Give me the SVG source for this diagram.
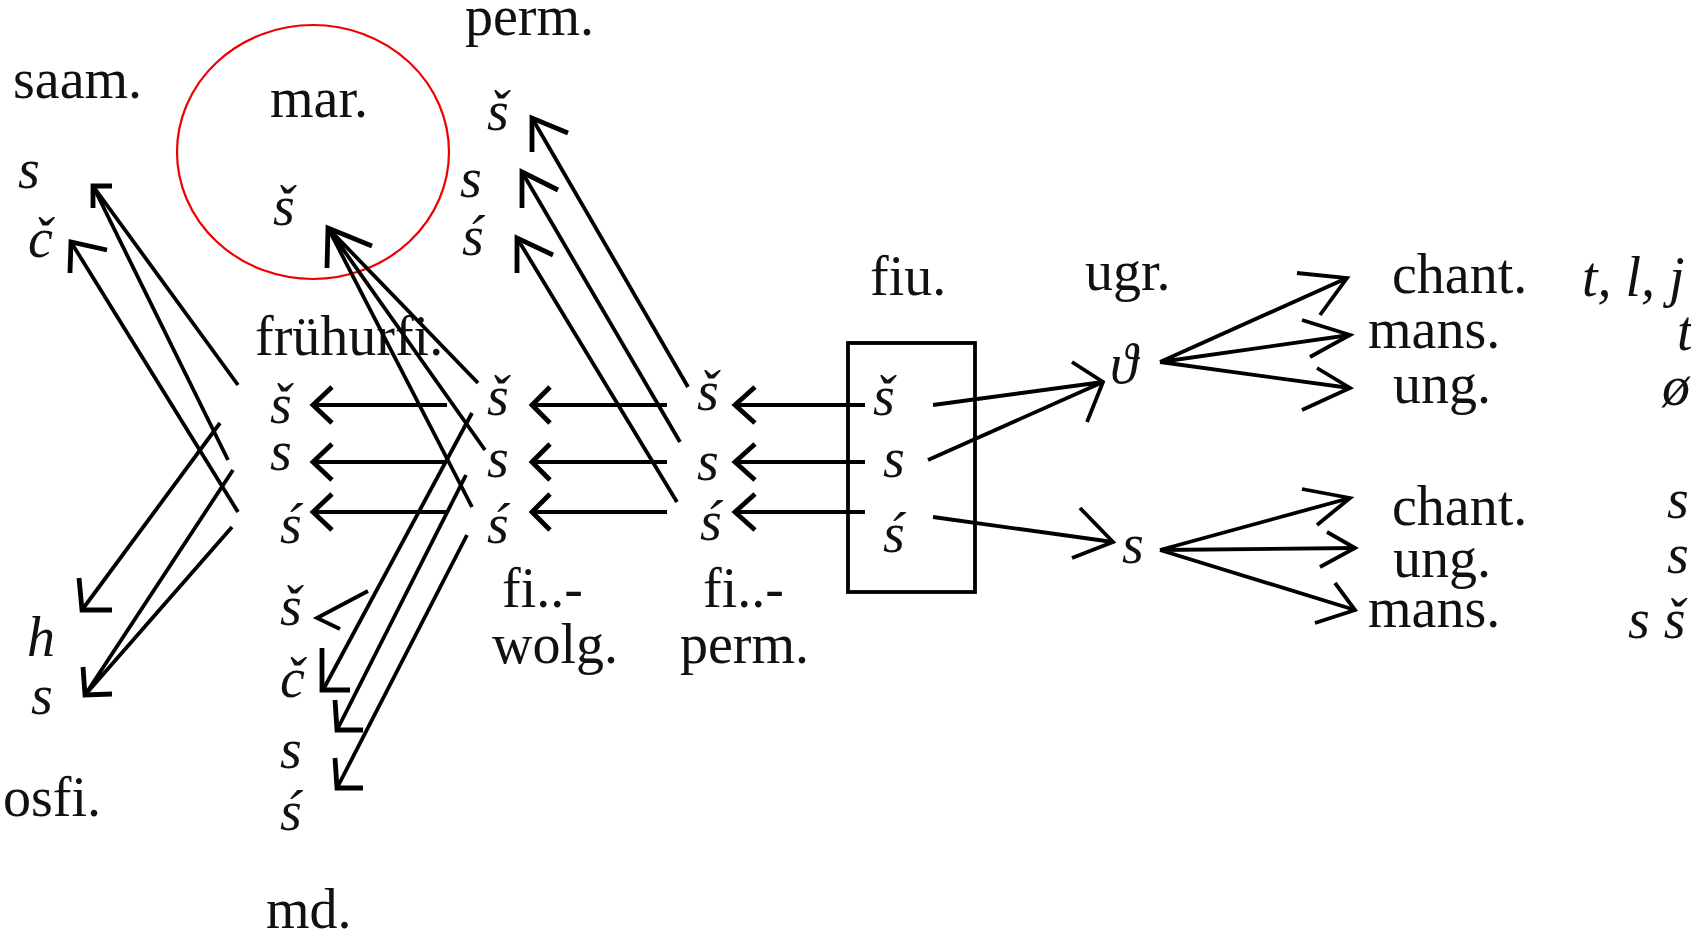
<svg xmlns="http://www.w3.org/2000/svg" width="1691" height="937" viewBox="0 0 1691 937">
<style>
text{font-family:"Liberation Serif","Times New Roman",serif;font-size:56px;fill:#111}
.i{font-style:italic}
.c path{fill:none;stroke:#000;stroke-width:3.8;stroke-linecap:butt;stroke-linejoin:miter}
.c path.h{stroke-width:4.8}
</style>
<rect width="1691" height="937" fill="#fff"/>
<ellipse id="highlight" cx="313" cy="152" rx="136" ry="127" fill="none" stroke="#e00" stroke-width="2.2"/>
<g id="saam"><text x="13" y="98">saam.</text><text class="i" x="18" y="188">s</text><text class="i" x="28" y="257">č</text></g>
<g id="mar"><text x="270" y="117">mar.</text><text class="i" x="273" y="225">š</text></g>
<g id="perm_top"><text x="465" y="35">perm.</text><text class="i" x="487" y="130">š</text><text class="i" x="460" y="197">s</text><text class="i" x="462" y="255">ś</text></g>
<g id="fruehurfi"><text x="255" y="355">frühurfi.</text><text class="i" x="270" y="423">š</text><text class="i" x="270" y="470">s</text><text class="i" x="280" y="543">ś</text></g>
<g id="md"><text class="i" x="280" y="625">š</text><text class="i" x="280" y="697">č</text><text class="i" x="280" y="768">s</text><text class="i" x="280" y="830">ś</text><text x="266" y="928">md.</text></g>
<g id="osfi"><text class="i" x="27" y="656">h</text><text class="i" x="31" y="714">s</text><text x="3" y="816">osfi.</text></g>
<g id="fi_wolg"><text class="i" x="487" y="415">š</text><text class="i" x="487" y="477">s</text><text class="i" x="487" y="543">ś</text><text x="502" y="607">fi..-</text><text x="492" y="663">wolg.</text></g>
<g id="fi_perm"><text class="i" x="697" y="410">š</text><text class="i" x="697" y="480">s</text><text class="i" x="700" y="540">ś</text><text x="703" y="607">fi..-</text><text x="680" y="663">perm.</text></g>
<g id="fiu"><text x="870" y="295">fiu.</text><rect x="848" y="343" width="127" height="249" fill="none" stroke="#000" stroke-width="3.8"/><text class="i" x="873" y="415">š</text><text class="i" x="883" y="477">s</text><text class="i" x="883" y="552">ś</text></g>
<g id="ugr"><text x="1085" y="290">ugr.</text><text class="i" x="1110" y="383">ϑ</text><text class="i" x="1122" y="563">s</text></g>
<g id="ob_ugr_1"><text x="1392" y="293">chant.</text><text x="1368" y="348">mans.</text><text x="1393" y="403">ung.</text></g>
<g id="ob_ugr_2"><text x="1392" y="525">chant.</text><text x="1393" y="577">ung.</text><text x="1368" y="627">mans.</text></g>
<g id="reflexes"><text class="i" x="1582" y="296">t, l, j</text><text class="i" x="1677" y="350">t</text><text class="i" x="1662" y="405">ø</text><text class="i" x="1667" y="518">s</text><text class="i" x="1667" y="573">s</text><text class="i" x="1628" y="638">s š</text></g>
<g id="connectors" class="c">
<path d="M238,385 L93,186 M228,460 L93,186"/><path class="h" d="M112,186 L93,186 L93,208"/>
<path d="M238,512 L71,242"/><path class="h" d="M107,250 L71,242 L70,273"/>
<path d="M220,423 L82,610"/><path class="h" d="M79,578 L82,610 L112,610"/>
<path d="M233,470 L85,695 M232,527 L85,695"/><path class="h" d="M83,667 L85,695 L112,694"/>
<path d="M478,383 L328,228 M485,450 L328,228 M472,507 L328,228"/><path class="h" d="M372,246 L328,228 L327,268"/>
<path d="M472,413 L323,690"/><path class="h" d="M322,648 L322,690 L350,690"/>
<path d="M466,475 L337,730"/><path class="h" d="M335,700 L337,730 L363,730"/>
<path d="M467,535 L337,788"/><path class="h" d="M335,758 L337,788 L363,788"/>
<path d="M368,591 L317,618 L340,629"/>
<path d="M447,405 L313,405 M447,462 L313,462 M447,512 L313,512"/>
<path class="h" d="M332,387 L313,405 L332,423 M332,444 L313,462 L332,480 M332,494 L313,512 L332,530"/>
<path d="M667,405 L532,405 M667,462 L532,462 M667,512 L532,512"/>
<path class="h" d="M550,387 L532,405 L550,423 M550,444 L532,462 L550,480 M550,494 L532,512 L550,530"/>
<path d="M865,405 L735,405 M865,462 L735,462 M865,512 L735,512"/>
<path class="h" d="M755,387 L735,405 L755,423 M755,444 L735,462 L755,480 M755,494 L735,512 L755,530"/>
<path d="M688,387 L532,118"/><path class="h" d="M568,133 L532,118 L532,152"/>
<path d="M680,442 L522,172"/><path class="h" d="M558,190 L522,172 L522,208"/>
<path d="M677,502 L517,238"/><path class="h" d="M553,255 L517,238 L517,273"/>
<path d="M933,405 L1103,382 M928,460 L1103,382"/><path d="M1072,362 L1103,382 L1087,422"/>
<path d="M933,517 L1113,542"/><path d="M1080,508 L1113,542 L1072,558"/>
<path d="M1160,362 L1347,278 M1160,362 L1350,335 M1160,362 L1350,388"/>
<path d="M1297,273 L1347,278 L1320,315 M1302,320 L1350,335 L1310,357 M1317,368 L1350,388 L1302,410"/>
<path d="M1160,550 L1350,498 M1160,550 L1355,548 M1160,550 L1355,610"/>
<path d="M1302,489 L1350,498 L1317,525 M1327,532 L1355,548 L1320,567 M1335,583 L1355,610 L1315,623"/>
</g>
</svg>
